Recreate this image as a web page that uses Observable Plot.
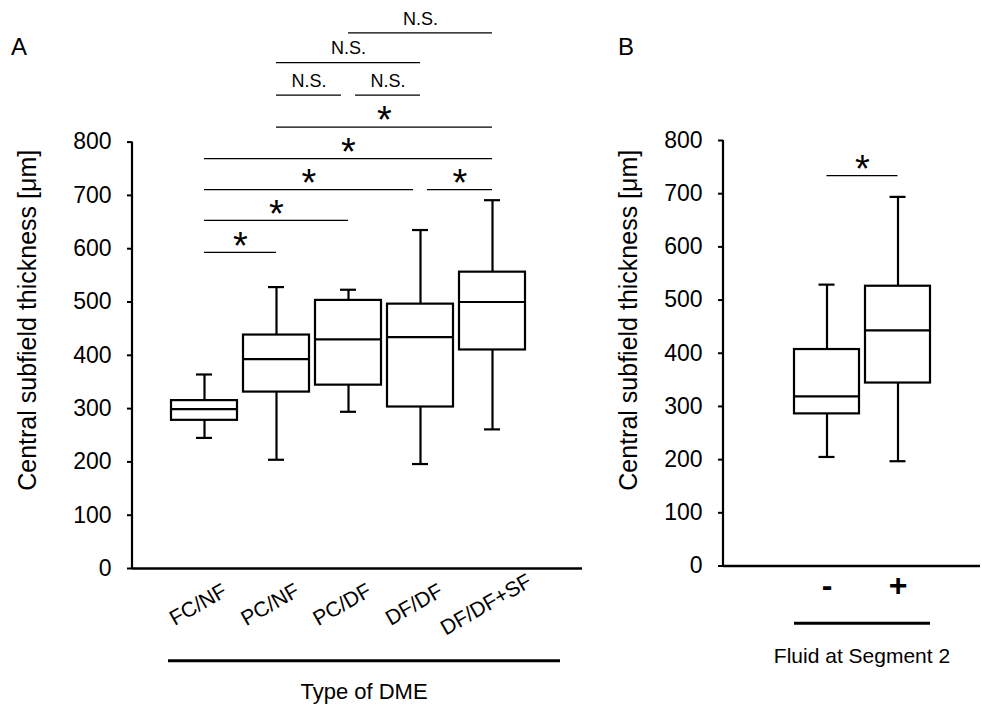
<!DOCTYPE html>
<html><head><meta charset="utf-8">
<script src="https://cdn.jsdelivr.net/npm/d3@7"></script>
<script src="https://cdn.jsdelivr.net/npm/@observablehq/plot@0.6"></script>
<style>
body{margin:0;background:#fff;}
#wrap{position:relative;width:982px;height:706px;font-family:"Liberation Sans",Arial,sans-serif;color:#000;}
#wrap svg{position:absolute;top:0;overflow:visible;}
.letter{position:absolute;font-size:24px;line-height:1;}
</style></head><body><div id="wrap"></div>
<script>
// ---- Panel A data: Type of DME ----
const typesA = ["FC/NF", "PC/NF", "PC/DF", "DF/DF", "DF/DF+SF"];
const minA = [245, 204, 294, 196, 261];
const q1A  = [278, 331, 344, 303, 410];
const medA = [299, 393, 430, 434, 500];
const q3A  = [315, 438, 503, 496, 556];
const maxA = [364, 528, 523, 635, 691];

// ---- Panel B data: Fluid at Segment 2 ----
const fluidB = ["-", "+"];
const minB = [205, 197];
const q1B  = [286, 344];
const medB = [319, 443];
const q3B  = [407, 526];
const maxB = [529, 694];

const yTicks = [0, 100, 200, 300, 400, 500, 600, 700, 800];

// ---- Significance comparisons (panel A) ----
const compFromA  = ["FC/NF", "FC/NF", "FC/NF", "DF/DF", "FC/NF", "PC/NF", "PC/NF", "PC/DF", "PC/NF", "PC/DF"];
const compToA    = ["PC/NF", "PC/DF", "DF/DF", "DF/DF+SF", "DF/DF+SF", "DF/DF+SF", "PC/DF", "DF/DF", "DF/DF", "DF/DF+SF"];
const compLevelA = [593, 653, 711, 711, 769, 828, 888, 888, 949, 1005];
const compLabelA = ["*", "*", "*", "*", "*", "*", "N.S.", "N.S.", "N.S.", "N.S."];

// ---- Significance comparisons (panel B) ----
const compFromB  = ["-"];
const compToB    = ["+"];
const compLevelB = [734];
const compLabelB = ["*"];

const yLabel = "Central subfield thickness [μm]";
const xTitleA = "Type of DME";
const xTitleB = "Fluid at Segment 2";

const FONT = '"Liberation Sans", Arial, sans-serif';

function panel(cfg) {
  const boxes = cfg.cats.map((c, i) => ({cat: c, min: cfg.mins[i], q1: cfg.q1s[i], med: cfg.meds[i], q3: cfg.q3s[i], max: cfg.maxs[i]}));
  const comps = cfg.from.map((f, i) => ({from: f, to: cfg.to[i], level: cfg.level[i], label: cfg.label[i]}));
  const base = {
    width: cfg.width, height: 706,
    marginLeft: cfg.marginLeft, marginRight: cfg.marginRight,
    marginTop: cfg.marginTop, marginBottom: cfg.marginBottom,
    x: {type: "band", domain: cfg.cats, paddingInner: 0.09, paddingOuter: cfg.paddingOuter, align: cfg.align, axis: null},
    y: {domain: [0, 800], axis: null},
    style: {fontFamily: FONT, color: "#000", background: "transparent", overflow: "visible"}
  };
  const probe = Plot.plot({...base, marks: [Plot.barY(boxes, {x: "cat", y1: "q1", y2: "q3"})]});
  const xs = probe.scale("x");
  const bw = xs.bandwidth, step = xs.step;
  const idx = (c) => cfg.cats.indexOf(c);
  const TRIM = 7;
  const sigMarks = comps.flatMap((c, k) => {
    const trimL = comps.some((o, j) => j !== k && o.level === c.level && o.to === c.from) ? TRIM : 0;
    const trimR = comps.some((o, j) => j !== k && o.level === c.level && o.from === c.to) ? TRIM : 0;
    const isStar = c.label === "*";
    return [
      Plot.ruleY([c], {y: "level", x1: "from", x2: "to", insetLeft: bw / 2 + trimL, insetRight: bw / 2 + trimR, stroke: "#000", strokeWidth: 1.2}),
      Plot.text([c], {x: "from", y: "level", text: "label",
        dx: (idx(c.to) - idx(c.from)) * step / 2 + (trimL - trimR) / 2,
        dy: isStar ? -6 : -14, fontSize: isStar ? 38 : 18, fill: "#000"})
    ];
  });
  const capInset = (bw - 16) / 2;
  const svg = Plot.plot({
    ...base,
    marks: [
      Plot.axisY({ticks: yTicks, tickSize: 5, tickPadding: 16, fontSize: 23, strokeWidth: 2, label: null, anchor: "left"}),
      Plot.ruleY([0], {stroke: "#000", strokeWidth: 2.5}),
      Plot.ruleX(boxes, {x: "cat", y1: "q3", y2: "max", stroke: "#000", strokeWidth: 2.2}),
      Plot.ruleX(boxes, {x: "cat", y1: "min", y2: "q1", stroke: "#000", strokeWidth: 2.2}),
      Plot.barY(boxes, {x: "cat", y1: "q1", y2: "q3", fill: "white", stroke: "#000", strokeWidth: 2.2}),
      Plot.tickY(boxes, {x: "cat", y: "med", stroke: "#000", strokeWidth: 2.2}),
      Plot.tickY(boxes, {x: "cat", y: "max", insetLeft: capInset, insetRight: capInset, stroke: "#000", strokeWidth: 2.2}),
      Plot.tickY(boxes, {x: "cat", y: "min", insetLeft: capInset, insetRight: capInset, stroke: "#000", strokeWidth: 2.2}),
      ...sigMarks,
      cfg.rotateTicks
        ? Plot.text(cfg.cats, {x: (d) => d, frameAnchor: "bottom", textAnchor: "middle", rotate: -30, dx: -3, dy: 42, fontSize: 21, fill: "#000"})
        : Plot.text(cfg.cats, {x: (d) => d, frameAnchor: "bottom", textAnchor: "middle", dy: 30, fontSize: 32, fontWeight: "bold", fill: "#000"}),
      Plot.text([yLabel], {frameAnchor: "left", textAnchor: "middle", rotate: -90, dx: cfg.yLabelDx, dy: cfg.yLabelDy, fontSize: 25, fill: "#000"})
    ]
  });
  // y-axis line & group bracket under the category labels
  const sx = svg.scale("x"), sy = svg.scale("y");
  const g = d3.select(svg).append("g");
  g.append("line").attr("x1", cfg.marginLeft).attr("x2", cfg.marginLeft)
    .attr("y1", sy.apply(0) + 1).attr("y2", sy.apply(800)).attr("stroke", "#000").attr("stroke-width", 2.2);
  const bx1 = sx.apply(cfg.cats[0]) + cfg.bracketL;
  const bx2 = sx.apply(cfg.cats[cfg.cats.length - 1]) + bw + cfg.bracketR;
  g.append("line").attr("x1", bx1).attr("x2", bx2).attr("y1", cfg.bracketY).attr("y2", cfg.bracketY)
    .attr("stroke", "#000").attr("stroke-width", 3);
  g.append("text").attr("x", (bx1 + bx2) / 2).attr("y", cfg.titleY).attr("text-anchor", "middle")
    .attr("dominant-baseline", "central").attr("font-size", cfg.titleSize).attr("font-family", FONT).attr("fill", "#000").text(cfg.title);
  svg.style.left = cfg.left + "px";
  return svg;
}

const wrap = document.getElementById("wrap");
wrap.appendChild(panel({
  cats: typesA, mins: minA, q1s: q1A, meds: medA, q3s: q3A, maxs: maxA,
  from: compFromA, to: compToA, level: compLevelA, label: compLabelA,
  width: 600, left: 0, marginLeft: 132, marginRight: 18, marginTop: 141.6, marginBottom: 138,
  paddingOuter: 0.648, align: 0.404, rotateTicks: true,
  yLabelDx: -105, yLabelDy: -35,
  bracketL: -3, bracketR: 35, bracketY: 660.7, titleY: 691, title: xTitleA, titleSize: 22
}));
wrap.appendChild(panel({
  cats: fluidB, mins: minB, q1s: q1B, meds: medB, q3s: q3B, maxs: maxB,
  from: compFromB, to: compToB, level: compLevelB, label: compLabelB,
  width: 382, left: 600, marginLeft: 123, marginRight: 2, marginTop: 140, marginBottom: 140.5,
  paddingOuter: 0.83, align: 0.586, rotateTicks: false,
  yLabelDx: -95, yLabelDy: -33,
  bracketL: 0, bracketR: 0, bracketY: 623.3, titleY: 655, title: xTitleB, titleSize: 21
}));
for (const [t, x] of [["A", 11], ["B", 618]]) {
  const d = document.createElement("div");
  d.className = "letter"; d.textContent = t;
  d.style.left = x + "px"; d.style.top = "35px";
  wrap.appendChild(d);
}
</script></body></html>
